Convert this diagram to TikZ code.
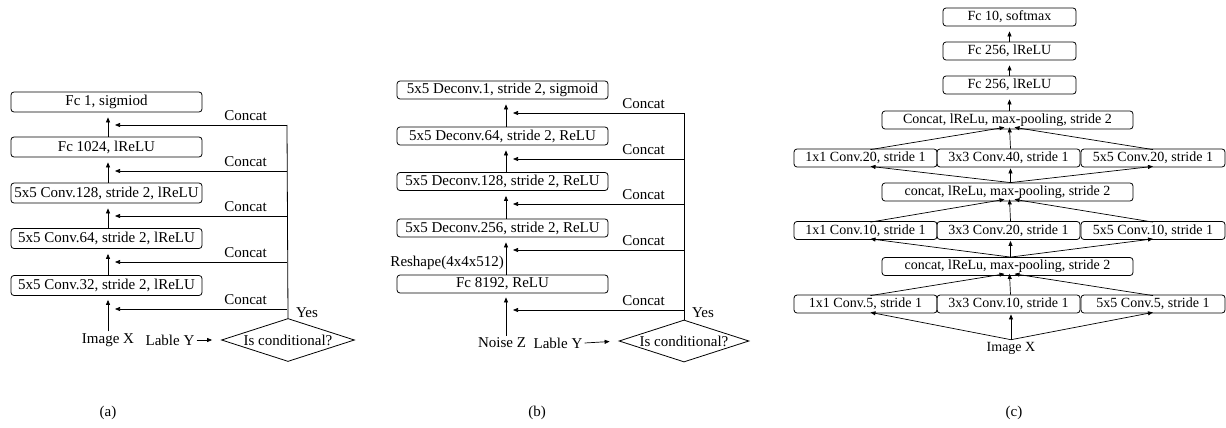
\documentclass[tikz,border=0pt]{standalone}
\usepackage{fontspec}
\setmainfont{Liberation Serif}
\usetikzlibrary{shapes.geometric,arrows.meta,calc}
\begin{document}
\begin{tikzpicture}[x=1pt,y=-1pt,
  font=\fontsize{14}{16}\selectfont,
  big/.style={font=\fontsize{15}{17}\selectfont},
  box/.style={draw,rounded corners=3pt,line width=0.8pt,inner sep=0pt},
  boxa/.style={box,big,minimum width=191pt,minimum height=20pt},
  boxb/.style={box,big,minimum width=211pt,minimum height=18pt},
  boxc/.style={box,minimum height=18pt},
  arr/.style={line width=0.7pt,-{Triangle[length=5pt,width=4pt]}},
  line/.style={line width=0.8pt},
  dia/.style={draw,diamond,aspect=3.1,inner sep=0pt,line width=0.8pt,big},
  lbl/.style={inner sep=0pt,anchor=base east,big},
  txt/.style={inner sep=2pt,big}]
\useasboundingbox (0,0) rectangle (1226,428);

% ---------------- (a) ----------------
\node[boxa] (a1) at (106.5,102) {Fc 1, sigmiod};
\node[boxa] (a2) at (106.5,147) {Fc 1024, lReLU};
\node[boxa] (a3) at (106.5,193) {5x5 Conv.128, stride 2, lReLU};
\node[boxa] (a4) at (106.5,238.5) {5x5 Conv.64, stride 2, lReLU};
\node[boxa] (a5) at (106.5,285.5) {5x5 Conv.32, stride 2, lReLU};
\node[txt] (ax) at (108,340) {Image X};
\node[txt] (ay) at (170,340) {Lable Y};
\node[dia,minimum width=133pt,minimum height=43pt] (ad) at (288,340) {Is conditional?};
\foreach \i/\j in {a2/a1,a3/a2,a4/a3,a5/a4}
  \draw[arr,shorten >=5pt] ([xshift=1.5pt]\i.north) -- ([xshift=1.5pt]\j.south);
\draw[arr,shorten >=4pt] ([xshift=0pt]ax.north) -- ([xshift=1.5pt]a5.south);
\draw[arr,shorten >=9pt] (ay.east) -- (ad.west);
\foreach \n/\y in {1/125,2/171,3/216,4/262,5/309}{
  \coordinate (ja\n) at (287,\y);
  \coordinate (ta\n) at (115,\y);
  \draw[arr] (ja\n) -- (ta\n);
  \node[lbl] (ca\n) at (267,\y-5) {Concat};
}
\draw[line] (ja1) -- (ad.north);
\node[inner sep=0pt,anchor=base,big] (ayes) at (307,317) {Yes};

% ---------------- (b) ----------------
\node[boxb] (b1) at (502.5,90) {5x5 Deconv.1, stride 2, sigmoid};
\node[boxb] (b2) at (502.5,136) {5x5 Deconv.64, stride 2, ReLU};
\node[boxb] (b3) at (502.5,181.5) {5x5 Deconv.128, stride 2, ReLU};
\node[boxb] (b4) at (502.5,228) {5x5 Deconv.256, stride 2, ReLU};
\node[boxb] (b5) at (502.5,284) {Fc 8192, ReLU};
\node[inner sep=0pt,anchor=east,big] (brs) at (504,263) {Reshape(4x4x512)};
\node[txt] (bz) at (502,343) {Noise Z};
\node[txt] (by) at (558,343) {Lable Y};
\node[dia,minimum width=130pt,minimum height=42pt] (bd) at (684,341) {Is conditional?};
\foreach \i/\j in {b2/b1,b3/b2,b4/b3,b5/b4}
  \draw[arr,shorten >=5pt] ([xshift=3.5pt]\i.north) -- ([xshift=3.5pt]\j.south);
\draw[arr,shorten >=4pt] ([xshift=4pt]bz.north) -- ([xshift=3.5pt]b5.south);
\draw[arr,shorten >=9pt] (by.east) -- (bd.west);
\foreach \n/\y in {1/113,2/159,3/204,4/250,5/310}{
  \coordinate (jb\n) at (684,\y);
  \coordinate (tb\n) at (513,\y);
  \draw[arr] (jb\n) -- (tb\n);
  \node[lbl] (cb\n) at (665,\y-5) {Concat};
}
\draw[line] (jb1) -- (bd.north);
\node[inner sep=0pt,anchor=base,big] (byes) at (703,317) {Yes};

% ---------------- (c) ----------------
\node[boxc,minimum width=133pt] (c1) at (1009.5,17) {Fc 10, softmax};
\node[boxc,minimum width=133pt] (c2) at (1009.5,51) {Fc 256, lReLU};
\node[boxc,minimum width=133pt] (c3) at (1009.5,85) {Fc 256, lReLU};
\node[boxc,minimum width=251pt] (c4) at (1007.5,120) {Concat, lReLu, max-pooling, stride 2};
\node[boxc,minimum width=143pt] (r1a) at (865.5,158) {1x1 Conv.20, stride 1};
\node[boxc,minimum width=143pt] (r1b) at (1008.5,158) {3x3 Conv.40, stride 1};
\node[boxc,minimum width=144pt] (r1c) at (1153,158) {5x5 Conv.20, stride 1};
\node[boxc,minimum width=251pt] (c6) at (1007.5,192) {concat, lReLu, max-pooling, stride 2};
\node[boxc,minimum width=143pt] (r2a) at (865.5,230.5) {1x1 Conv.10, stride 1};
\node[boxc,minimum width=143pt] (r2b) at (1008.5,230.5) {3x3 Conv.20, stride 1};
\node[boxc,minimum width=144pt] (r2c) at (1153,230.5) {5x5 Conv.10, stride 1};
\node[boxc,minimum width=251pt] (c8) at (1007.5,266.5) {concat, lReLu, max-pooling, stride 2};
\node[boxc,minimum width=143pt] (r3a) at (865.5,304) {1x1 Conv.5, stride 1};
\node[boxc,minimum width=143pt] (r3b) at (1008.5,304) {3x3 Conv.10, stride 1};
\node[boxc,minimum width=144pt] (r3c) at (1153,304) {5x5 Conv.5, stride 1};
\node[inner sep=2pt] (cx) at (1011,348) {Image X};

\draw[arr,shorten >=5pt] (c2.north) -- (c1.south);
\draw[arr,shorten >=5pt] (c3.north) -- (c2.south);
\draw[arr,shorten >=5pt] (c4.north -| c3.south) -- (c3.south);
% converge into concat boxes
\foreach \r/\c in {r1/c4,r2/c6,r3/c8}{
  \draw[arr] ([xshift=5pt,yshift=-1pt]\r a.north) -- ([xshift=-3pt,yshift=2pt]\c.south);
  \draw[arr] ([xshift=2pt]\r b.north) -- ([xshift=2pt,yshift=2pt]\c.south);
  \draw[arr] ([yshift=-1pt]\r c.north) -- ([xshift=7pt,yshift=2pt]\c.south);
}
% diverge from concat boxes
\foreach \c/\r in {c6/r1,c8/r2}{
  \draw[arr] ([xshift=3pt]\c.north) -- ([xshift=5pt,yshift=1pt]\r a.south);
  \draw[arr,shorten >=1pt] ([xshift=3pt]\c.north) -- ([xshift=2pt]\r b.south);
  \draw[arr] ([xshift=3pt]\c.north) -- ([yshift=1pt]\r c.south);
}
\draw[arr] (cx.north) -- ([xshift=5pt,yshift=1pt]r3a.south);
\draw[arr,shorten >=1pt] (cx.north) -- ([xshift=2.5pt]r3b.south);
\draw[arr] (cx.north) -- ([yshift=1pt]r3c.south);

% ---------------- captions ----------------
\node[big] (capa) at (108,413) {(a)};
\node[big] (capb) at (537,413) {(b)};
\node[big] (capc) at (1014,413) {(c)};
\end{tikzpicture}
\end{document}
